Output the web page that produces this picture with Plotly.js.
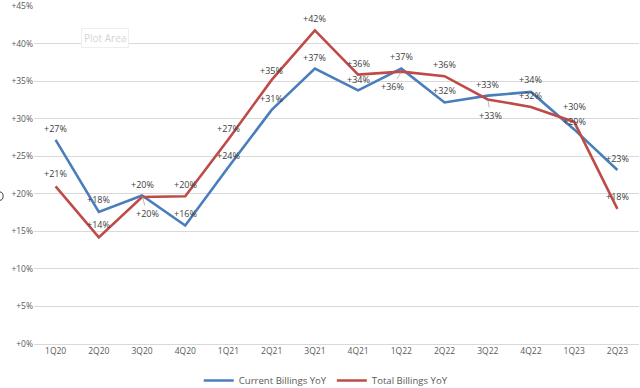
<!DOCTYPE html>
<html><head><meta charset="utf-8">
<script src="https://cdn.plot.ly/plotly-3.0.1.min.js"></script>
<style>html,body{margin:0;padding:0;background:#fff;}#chart{width:640px;height:388px;}</style>
</head><body><div id="chart"></div>
<script>
const quarters = ["1Q20","2Q20","3Q20","4Q20","1Q21","2Q21","3Q21","4Q21","1Q22","2Q22","3Q22","4Q22","1Q23","2Q23"];
const currentBillings = [27.2, 17.6, 19.8, 15.8, 23.6, 31.2, 36.7, 33.8, 36.7, 32.2, 33.1, 33.6, 28.6, 23.2];
const totalBillings = [21.0, 14.2, 19.6, 19.7, 27.3, 35.2, 41.8, 35.9, 36.3, 35.7, 32.6, 31.6, 29.6, 18.0];
// label offsets in pixels [dx, dy] (negative dy = above the point)
const currentLabelOffset = [[0,-11],[0,-12],[5,18],[0,-12],[0,-11],[0,-11],[0,-11],[0,-11],[0,-12],[0,-12],[0,-11],[0,-12],[0,-8],[0,-11]];
const totalLabelOffset = [[0,-13],[0,-13],[0,-12],[0,-12],[0,-11],[0,-9],[0,-12],[0,-11],[-9,15],[0,-12],[3,16],[0,-11],[0,-15],[0,-12]];
const leaderCurrent = [false,false,true,false,false,false,false,false,false,false,false,false,false,false];
const leaderTotal = [false,false,false,false,false,false,false,false,true,false,true,false,false,false];
const yTicks = [0,5,10,15,20,25,30,35,40,45];

const fmt = v => "+" + Math.round(v) + "%";
const font = "Open Sans, Liberation Sans, sans-serif";

const traces = [
  {x: quarters, y: currentBillings, name: "Current Billings YoY", type: "scatter", mode: "lines",
   line: {color: "#4A7EBB", width: 2.6}},
  {x: quarters, y: totalBillings, name: "Total Billings YoY", type: "scatter", mode: "lines",
   line: {color: "#BE4B48", width: 2.6}}
];

function labels(vals, offs, leaders) {
  return vals.map((v, i) => {
    const a = {x: quarters[i], y: v, xref: "x", yref: "y", text: fmt(v),
      font: {size: 9, color: "#404040", family: font}};
    if (leaders[i]) {
      Object.assign(a, {showarrow: true, arrowhead: 0, arrowwidth: 0.8, arrowcolor: "#a6a6a6",
        ax: offs[i][0], ay: offs[i][1], standoff: 1});
    } else {
      Object.assign(a, {showarrow: false, xshift: offs[i][0], yshift: -offs[i][1]});
    }
    return a;
  });
}

const layout = {
  width: 640, height: 388,
  margin: {l: 34, r: 1, t: 6, b: 44, autoexpand: false},
  paper_bgcolor: "#fff", plot_bgcolor: "#fff",
  font: {family: font, size: 9, color: "#595959"},
  showlegend: true,
  legend: {orientation: "h", x: 0.483, xanchor: "center", y: -0.065, yanchor: "top",
    font: {size: 9.6, color: "#595959", family: font}, itemwidth: 30, tracegroupgap: 0},
  xaxis: {type: "category", range: [-0.5, 13.5], showgrid: false, zeroline: false,
    showline: false, ticks: "", tickfont: {size: 8.5, color: "#595959"}},
  yaxis: {range: [0, 45.05], tickvals: yTicks, ticktext: yTicks.map(v => "+" + v + "%"),
    showgrid: true, gridcolor: "#d9d9d9", gridwidth: 1, zeroline: true, zerolinecolor: "#d9d9d9",
    showline: false, ticks: "", tickfont: {size: 8.5, color: "#595959"}, fixedrange: true},
  annotations: [
    {text: "Plot Area", xref: "paper", yref: "paper", x: 0.077, y: 0.905, xanchor: "left", yanchor: "middle",
     showarrow: false, font: {size: 10, color: "#d4d4d4", family: font}, bordercolor: "#eeeeee", borderwidth: 1, borderpad: 2, bgcolor: "#ffffff"}
  ].concat(labels(currentBillings, currentLabelOffset, leaderCurrent), labels(totalBillings, totalLabelOffset, leaderTotal)),
  shapes: [
    {type: "circle", xref: "paper", yref: "paper", x0: -0.063, x1: -0.051, y0: 0.425, y1: 0.45,
     line: {color: "#404040", width: 1}}
  ]
};

Plotly.newPlot("chart", traces, layout, {displayModeBar: false, staticPlot: true});
</script></body></html>
